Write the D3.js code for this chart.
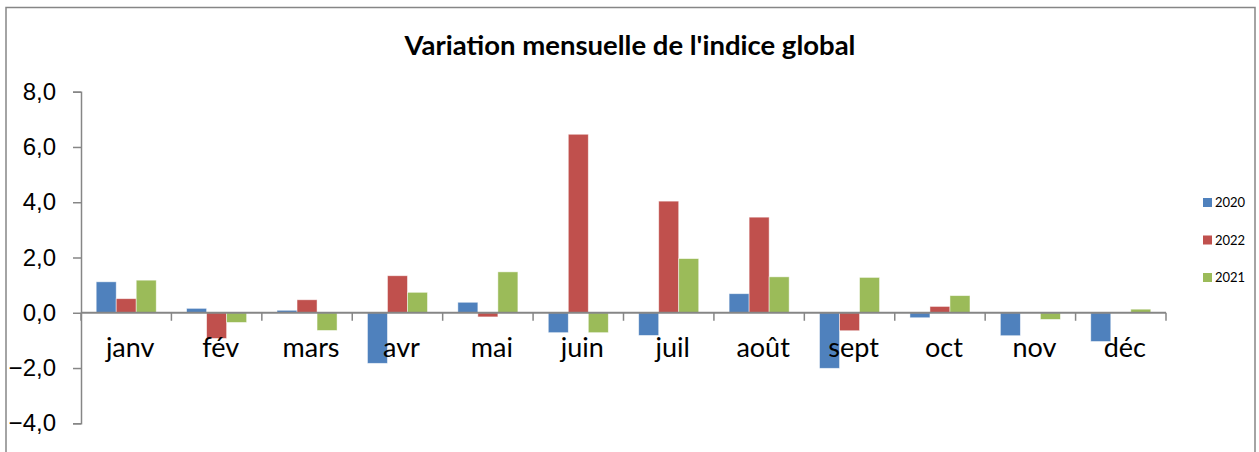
<!DOCTYPE html>
<html>
<head>
<meta charset="utf-8">
<script src="https://cdn.jsdelivr.net/npm/d3@7"></script>
<style>
  body { margin: 0; background: #fff; }
  svg { font-family: Lato, "Open Sans", sans-serif; }
</style>
</head>
<body>
<div id="chart-area"></div>
<script>
var months = ["janv", "fév", "mars", "avr", "mai", "juin", "juil", "août", "sept", "oct", "nov", "déc"];
var seriesNames = ["2020", "2022", "2021"];
var values2020 = [1.12, 0.16, 0.09, -1.83, 0.38, -0.72, -0.82, 0.69, -2.01, -0.18, -0.83, -1.04];
var values2022 = [0.51, -0.93, 0.47, 1.34, -0.15, 6.46, 4.04, 3.46, -0.65, 0.23, 0.0, 0.0];
var values2021 = [1.18, -0.35, -0.64, 0.74, 1.48, -0.72, 1.96, 1.30, 1.28, 0.62, -0.24, 0.13];
var colors = ["#4F81BD", "#C0504D", "#9BBB59"];
var yTicks = [-4, -2, 0, 2, 4, 6, 8];

var allSeries = [values2020, values2022, values2021];

var W = 1259, H = 452;
var plot = { left: 81, right: 1166, top: 91.7, bottom: 423.3 };

var svg = d3.select("#chart-area").append("svg")
	.attr("width", W)
	.attr("height", H);

// outer chart frame
svg.append("rect")
	.attr("x", 6).attr("y", 7.5)
	.attr("width", 1249).attr("height", 470)
	.attr("fill", "none")
	.attr("stroke", "#868686")
	.attr("stroke-width", 1.5);

var x = d3.scaleBand()
	.domain(months)
	.range([plot.left, plot.right])
	.paddingInner(0.336)
	.paddingOuter(0.168);

var xBand = d3.scaleBand()
	.domain(months)
	.range([plot.left, plot.right]);

var xSub = d3.scaleBand()
	.domain(seriesNames)
	.range([0, x.bandwidth()]);

var y = d3.scaleLinear()
	.domain([-4, 8])
	.range([plot.bottom, plot.top]);

// bars
var groups = svg.selectAll("g.month")
	.data(months)
	.enter().append("g")
		.attr("class", "month")
		.attr("transform", function(d){ return "translate(" + x(d) + ",0)"; });

groups.selectAll("rect")
	.data(function(d, i){
		return seriesNames.map(function(s, k){ return { s: s, v: allSeries[k][i], k: k }; });
	})
	.enter().append("rect")
		.attr("x", function(d){ return xSub(d.s); })
		.attr("width", xSub.bandwidth())
		.attr("y", function(d){ return y(Math.max(0, d.v)); })
		.attr("height", function(d){ return Math.abs(y(d.v) - y(0)); })
		.attr("fill", function(d){ return colors[d.k]; })
		.attr("stroke", "rgba(255,255,255,0.6)")
		.attr("stroke-width", 0.8);

// y axis
var yAxis = d3.axisLeft(y)
	.tickValues(yTicks)
	.tickSize(8)
	.tickPadding(17)
	.tickFormat(function(d){ return d3.format(".1f")(d).replace(".", ","); });

var gy = svg.append("g")
	.attr("transform", "translate(" + plot.left + ",0)")
	.call(yAxis);
gy.select(".domain").attr("stroke", "#868686").attr("stroke-width", 1.5);
gy.selectAll(".tick line").attr("stroke", "#868686").attr("stroke-width", 1.5);
gy.selectAll(".tick text").attr("font-size", "24px").attr("fill", "#000");

// x axis on zero line
var gx = svg.append("g")
	.attr("transform", "translate(0," + y(0) + ")");
gx.append("line")
	.attr("x1", plot.left).attr("x2", plot.right)
	.attr("stroke", "#868686").attr("stroke-width", 2);
var bounds = months.map(function(m){ return xBand(m); }).concat([plot.right]);
gx.selectAll("line.tk")
	.data(bounds)
	.enter().append("line")
		.attr("class", "tk")
		.attr("x1", function(d){ return d; })
		.attr("x2", function(d){ return d; })
		.attr("y1", 0).attr("y2", 8)
		.attr("stroke", "#868686").attr("stroke-width", 1.5);
gx.selectAll("text")
	.data(months)
	.enter().append("text")
		.attr("x", function(d){ return xBand(d) + xBand.bandwidth() / 2 + 4; })
		.attr("y", 44.5)
		.attr("text-anchor", "middle")
		.attr("font-size", "27px")
		.attr("fill", "#000")
		.text(function(d){ return d; });

// title
svg.append("text")
	.attr("x", 630)
	.attr("y", 55)
	.attr("text-anchor", "middle")
	.attr("font-size", "27.5px")
	.attr("font-weight", "bold")
	.attr("fill", "#000")
	.text("Variation mensuelle de l'indice global");

// legend
var legend = svg.selectAll("g.legend")
	.data(seriesNames)
	.enter().append("g")
		.attr("class", "legend")
		.attr("transform", function(d, i){ return "translate(1203," + (198 + i * 37.5) + ")"; });
legend.append("rect")
	.attr("width", 9).attr("height", 9)
	.attr("fill", function(d, i){ return colors[i]; });
legend.append("text")
	.attr("x", 12).attr("y", 9)
	.attr("font-size", "13px")
	.attr("fill", "#000")
	.text(function(d){ return d; });
</script>
</body>
</html>
